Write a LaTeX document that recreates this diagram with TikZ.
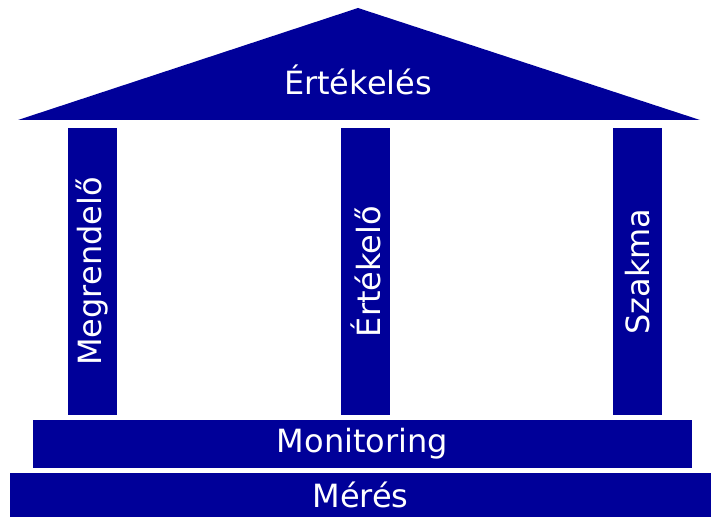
\documentclass[tikz,border=0pt]{standalone}
\usepackage{fontspec}
\setmainfont{DejaVu Sans}
\usepackage{tikz}
\definecolor{navy}{RGB}{0,0,153}

\begin{document}
\begin{tikzpicture}[
  x=0.75pt, y=-0.75pt,
  block/.style = {fill=navy, text=white, inner sep=0pt, outer sep=0pt,
      font=\fontsize{24}{29}\selectfont},
  pillar/.style = {block, rotate=90, minimum width=215.25pt, minimum height=36.75pt}
  ]
  \useasboundingbox (0,0) rectangle (711,517);
  % roof
  \fill[navy] (18,120) -- (358,8) -- (700,120) -- cycle;
  \node[block] (roof) at (358,80) {Értékelés};
  % pillars
  \foreach \x/\name/\txt in {92.5/megrendelo/Megrendelő,
                             365.5/ertekelo/Értékelő,
                             637.5/szakma/Szakma}
    \node[pillar] (\name) at (\x,271.5) {\txt};
  %
  \node[block, minimum width=494.25pt, minimum height=36pt] (monitoring) at (362.5,444) {Monitoring};
  \node[block, minimum width=525.75pt, minimum height=33pt] (meres) at (360.5,495) {Mérés};
\end{tikzpicture}
\end{document}
